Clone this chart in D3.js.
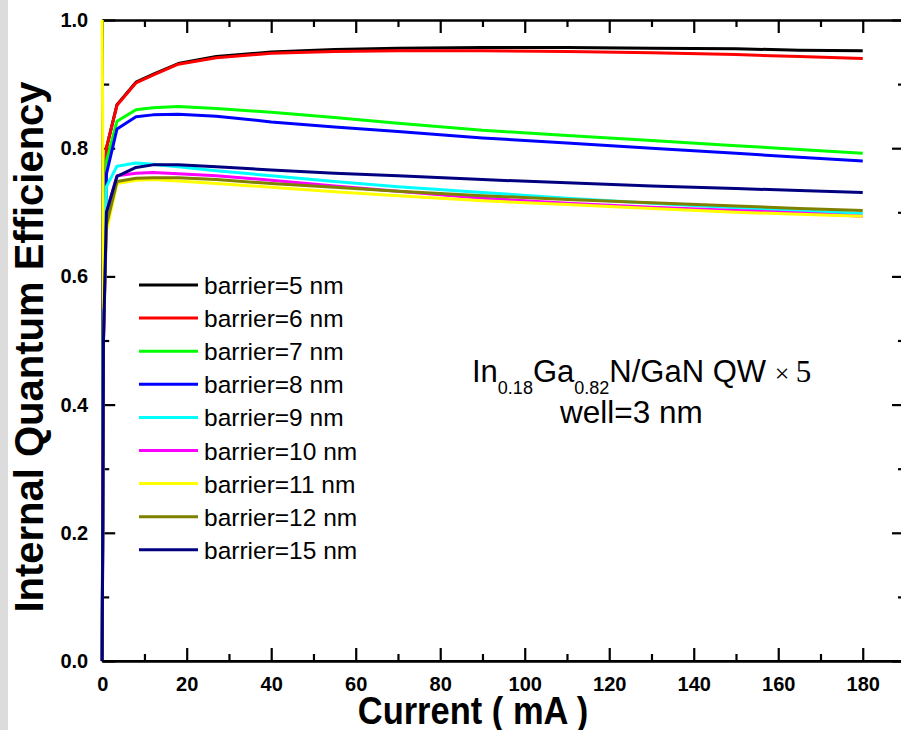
<!DOCTYPE html>
<html>
<head>
<meta charset="utf-8">
<script src="https://cdn.jsdelivr.net/npm/d3@7"></script>
<style>
  html, body { margin: 0; padding: 0; background: #ffffff; }
  svg { display: block; }
  text { font-family: "Liberation Sans", Arial, sans-serif; fill: #000; }
</style>
</head>
<body>
<svg id="chart" width="901" height="730"></svg>
<script>
// Drive current (mA) at which IQE was computed
const currents = [0, 0.3, 1, 3.5, 8, 12, 18, 27, 40, 55, 70, 90, 110, 130, 150, 165, 180];

// Internal quantum efficiency for each barrier thickness
const iqe5nm  = [0, 0.62, 0.80, 0.868, 0.903, 0.915, 0.932, 0.943, 0.950, 0.954, 0.956, 0.957, 0.957, 0.956, 0.955, 0.953, 0.952];
const iqe6nm  = [0, 0.62, 0.80, 0.867, 0.902, 0.914, 0.931, 0.941, 0.948, 0.951, 0.952, 0.952, 0.951, 0.949, 0.946, 0.943, 0.940];
const iqe7nm  = [0, 0.55, 0.78, 0.842, 0.860, 0.863, 0.865, 0.862, 0.856, 0.848, 0.839, 0.828, 0.820, 0.812, 0.804, 0.798, 0.792];
const iqe8nm  = [0, 0.50, 0.76, 0.830, 0.849, 0.852, 0.853, 0.850, 0.841, 0.833, 0.826, 0.816, 0.808, 0.800, 0.792, 0.786, 0.780];
const iqe9nm  = [0, 0.60, 0.74, 0.772, 0.777, 0.775, 0.771, 0.765, 0.757, 0.748, 0.740, 0.731, 0.722, 0.714, 0.707, 0.702, 0.698];
const iqe10nm = [0, 0.50, 0.70, 0.757, 0.761, 0.762, 0.760, 0.757, 0.750, 0.741, 0.733, 0.722, 0.714, 0.708, 0.703, 0.699, 0.694];
const iqe11nm = [1.0, 0.55, 0.67, 0.745, 0.750, 0.751, 0.749, 0.745, 0.739, 0.732, 0.726, 0.718, 0.712, 0.706, 0.700, 0.697, 0.694];
const iqe12nm = [0, 0.50, 0.68, 0.748, 0.753, 0.754, 0.754, 0.751, 0.745, 0.739, 0.733, 0.726, 0.720, 0.715, 0.710, 0.706, 0.703];
const iqe15nm = [0, 0.50, 0.70, 0.756, 0.770, 0.774, 0.774, 0.771, 0.766, 0.761, 0.757, 0.751, 0.746, 0.741, 0.737, 0.734, 0.731];

const seriesNames  = ["barrier=5 nm", "barrier=6 nm", "barrier=7 nm", "barrier=8 nm", "barrier=9 nm",
                      "barrier=10 nm", "barrier=11 nm", "barrier=12 nm", "barrier=15 nm"];
const seriesValues = [iqe5nm, iqe6nm, iqe7nm, iqe8nm, iqe9nm, iqe10nm, iqe11nm, iqe12nm, iqe15nm];
const seriesColors = ["#000000", "#ff0000", "#00ff00", "#0000ff", "#00ffff",
                      "#ff00ff", "#ffff00", "#808000", "#000080"];

const xMajorTicks = [0, 20, 40, 60, 80, 100, 120, 140, 160, 180];
const xMinorTicks = [10, 30, 50, 70, 90, 110, 130, 150, 170];
const yMajorTicks = [0, 0.2, 0.4, 0.6, 0.8, 1.0];
const yMinorTicks = [0.1, 0.3, 0.5, 0.7, 0.9];

const svg = d3.select("#chart");

// light gray strip along the left edge
svg.append("rect").attr("x", 0).attr("y", 0).attr("width", 8).attr("height", 730).attr("fill", "#dcdcdc");

const x = d3.scaleLinear().domain([0, 190]).range([102.2, 905]);
const y = d3.scaleLinear().domain([0, 1]).range([661, 20]);

const fmtY = d3.format(".1f");

function styleAxis(g) {
  g.selectAll("path.domain").attr("stroke", "#000").attr("stroke-width", 2.2);
  g.selectAll(".tick line").attr("stroke", "#000").attr("stroke-width", 2.2);
}
function styleLabels(g) {
  g.selectAll(".tick text").attr("font-size", 20).attr("font-weight", "bold")
    .attr("font-family", "'Liberation Sans', Arial, sans-serif").attr("fill", "#000");
}

// bottom axis with labels
const gB = svg.append("g").attr("transform", `translate(0,${y(0)})`)
  .call(d3.axisBottom(x).tickValues(xMajorTicks).tickSizeInner(-13).tickSizeOuter(0).tickPadding(16));
styleLabels(gB);
styleAxis(gB);
const gBm = svg.append("g").attr("transform", `translate(0,${y(0)})`)
  .call(d3.axisBottom(x).tickValues(xMinorTicks).tickSizeInner(-7).tickSizeOuter(0).tickFormat(""));
styleAxis(gBm);

// top axis, ticks only
const gT = svg.append("g").attr("transform", `translate(0,${y(1)})`)
  .call(d3.axisTop(x).tickValues(xMajorTicks).tickSizeInner(-13).tickSizeOuter(0).tickFormat(""));
styleAxis(gT);
const gTm = svg.append("g").attr("transform", `translate(0,${y(1)})`)
  .call(d3.axisTop(x).tickValues(xMinorTicks).tickSizeInner(-7).tickSizeOuter(0).tickFormat(""));
styleAxis(gTm);

// left axis with labels
const gL = svg.append("g").attr("transform", `translate(${x(0)},0)`)
  .call(d3.axisLeft(y).tickValues(yMajorTicks).tickSizeInner(-13).tickSizeOuter(0).tickPadding(14).tickFormat(fmtY));
styleLabels(gL);
styleAxis(gL);
const gLm = svg.append("g").attr("transform", `translate(${x(0)},0)`)
  .call(d3.axisLeft(y).tickValues(yMinorTicks).tickSizeInner(-7).tickSizeOuter(0).tickFormat(""));
styleAxis(gLm);

// right axis, ticks only
const gR = svg.append("g").attr("transform", `translate(${x(190)},0)`)
  .call(d3.axisRight(y).tickValues(yMajorTicks).tickSizeInner(-13).tickSizeOuter(0).tickFormat(""));
styleAxis(gR);
const gRm = svg.append("g").attr("transform", `translate(${x(190)},0)`)
  .call(d3.axisRight(y).tickValues(yMinorTicks).tickSizeInner(-7).tickSizeOuter(0).tickFormat(""));
styleAxis(gRm);

// IQE curves
const line = d3.line().x((d, i) => x(currents[i])).y(d => y(d));
svg.append("g").selectAll("path")
  .data(seriesValues)
  .join("path")
  .attr("d", d => line(d))
  .attr("fill", "none")
  .attr("stroke", (d, i) => seriesColors[i])
  .attr("stroke-width", 3)
  .attr("stroke-linejoin", "round");

// bottom axis line kept above the curves' starting points
svg.append("line").attr("x1", x(0)).attr("x2", x(190)).attr("y1", y(0)).attr("y2", y(0))
  .attr("stroke", "#000").attr("stroke-width", 2.2);

// legend
const legend = svg.append("g");
const legendTop = 285, legendStep = 33.1;
seriesNames.forEach((name, i) => {
  const ly = legendTop + i * legendStep;
  legend.append("line").attr("x1", 139).attr("x2", 198).attr("y1", ly).attr("y2", ly)
    .attr("stroke", seriesColors[i]).attr("stroke-width", 3);
  legend.append("text").attr("x", 204).attr("y", ly + 9).attr("font-size", 24.5).text(name);
});

// structure annotation
const serif = "'Liberation Serif', 'Times New Roman', serif";
const ann = svg.append("text").attr("x", 472).attr("y", 382).attr("font-size", 31);
ann.append("tspan").text("In");
ann.append("tspan").attr("font-size", 18).attr("dy", 12).text("0.18");
ann.append("tspan").attr("dy", -12).text("Ga");
ann.append("tspan").attr("font-size", 18).attr("dy", 12).text("0.82");
ann.append("tspan").attr("dy", -12).text("N/GaN QW ");
ann.append("tspan").attr("font-family", serif).attr("font-size", 26).text("× ");
ann.append("tspan").attr("font-family", serif).attr("font-size", 31).text("5");

svg.append("text").attr("x", 560).attr("y", 423).attr("font-size", 31.5).text("well=3 nm");

// axis titles
svg.append("text")
  .attr("transform", "translate(473,724) scale(1,1.12)")
  .attr("text-anchor", "middle").attr("font-size", 34.5).attr("font-weight", "bold")
  .text("Current ( mA )");

svg.append("text")
  .attr("transform", "translate(43,347) rotate(-90)")
  .attr("text-anchor", "middle").attr("font-size", 40).attr("font-weight", "bold")
  .text("Internal Quantum Efficiency");
</script>
</body>
</html>
